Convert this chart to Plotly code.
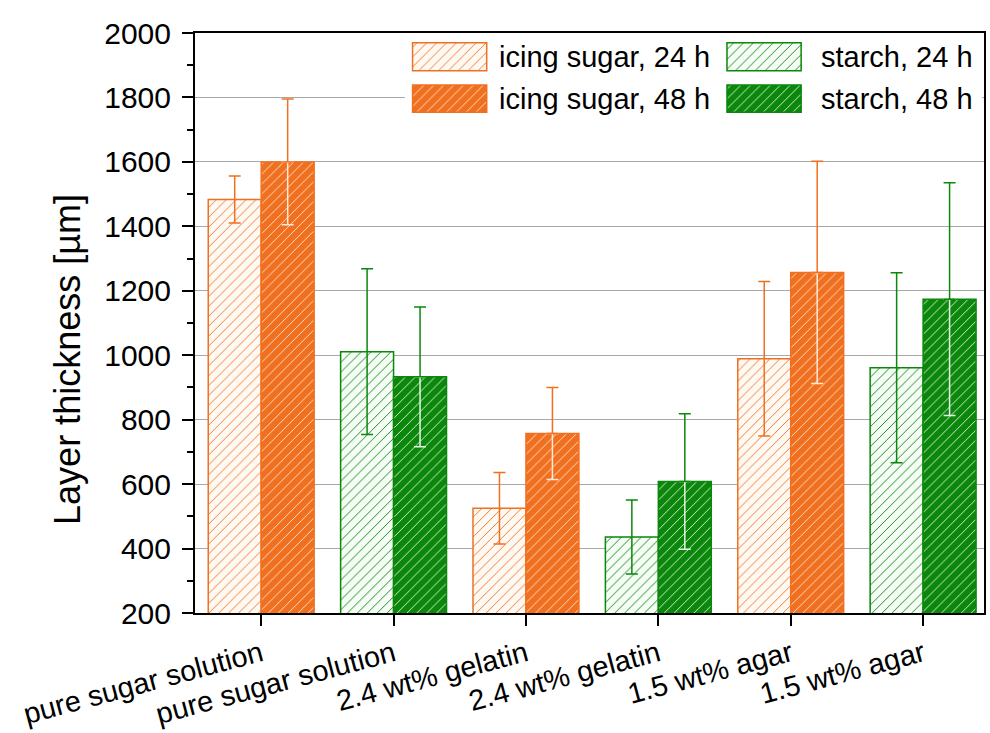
import plotly.graph_objects as go

# ---------------- data ----------------
categories = ["pure sugar solution", "pure sugar solution",
              "2.4 wt% gelatin", "2.4 wt% gelatin",
              "1.5 wt% agar", "1.5 wt% agar"]
icing_pos = [0, 2, 4]
starch_pos = [1, 3, 5]

icing_24 = [1483, 525, 989]
icing_24_err = [73, 111, 240]
icing_48 = [1600, 757, 1257]
icing_48_err = [195, 143, 345]
starch_24 = [1011, 436, 961]
starch_24_err = [257, 115, 295]
starch_48 = [933, 608, 1174]
starch_48_err = [217, 210, 361]

series_names = ["icing sugar, 24 h", "icing sugar, 48 h", "starch, 24 h", "starch, 48 h"]
y_ticks = [200, 400, 600, 800, 1000, 1200, 1400, 1600, 1800, 2000]

# ---------------- styles ----------------
ORANGE = "#F07020"
GREEN = "#0B870B"
FONT = "Liberation Sans, Arial, sans-serif"


def light_marker(col, bg):
    return dict(color=bg, line=dict(color=col, width=1.5),
                pattern=dict(shape="/", size=7, solidity=0.13, fgcolor=col,
                             bgcolor=bg, fillmode="overlay", fgopacity=1))


def dark_marker(col):
    return dict(color=col, line=dict(color=col, width=1.5),
                pattern=dict(shape="/", size=7, solidity=0.14, fgcolor="#FFE9D8",
                             bgcolor=col, fillmode="overlay", fgopacity=0.9))


def dark_marker_g(col):
    return dict(color=col, line=dict(color=col, width=1.5),
                pattern=dict(shape="/", size=7, solidity=0.14, fgcolor="#E8F6E8",
                             bgcolor=col, fillmode="overlay", fgopacity=0.9))


LIGHT_O = "#FFF9F4"
LIGHT_G = "#F6FCF6"

fig = go.Figure()

# 24 h bars
fig.add_trace(go.Bar(x=icing_pos, y=icing_24, offsetgroup="a", name=series_names[0],
                     marker=light_marker(ORANGE, LIGHT_O), showlegend=False,
                     error_y=dict(type="data", array=icing_24_err, color=ORANGE,
                                  thickness=1.5, width=6)))
fig.add_trace(go.Bar(x=starch_pos, y=starch_24, offsetgroup="a", name=series_names[2],
                     marker=light_marker(GREEN, LIGHT_G), showlegend=False,
                     error_y=dict(type="data", array=starch_24_err, color=GREEN,
                                  thickness=1.5, width=6)))
# 48 h bars (lower error half drawn light inside the bar)
fig.add_trace(go.Bar(x=icing_pos, y=icing_48, offsetgroup="b", name=series_names[1],
                     marker=dark_marker(ORANGE), showlegend=False,
                     error_y=dict(type="data", symmetric=False,
                                  array=[0 for _ in icing_48_err], arrayminus=icing_48_err,
                                  color="#FFE9D8", thickness=1.5, width=6)))
fig.add_trace(go.Bar(x=starch_pos, y=starch_48, offsetgroup="b", name=series_names[3],
                     marker=dark_marker_g(GREEN), showlegend=False,
                     error_y=dict(type="data", symmetric=False,
                                  array=[0 for _ in starch_48_err], arrayminus=starch_48_err,
                                  color="#E8F6E8", thickness=1.5, width=6)))
# upper error halves of 48 h bars
fig.add_trace(go.Bar(x=icing_pos, y=icing_48, offsetgroup="b", showlegend=False,
                     marker=dict(color="rgba(0,0,0,0)", line=dict(width=0)), hoverinfo="skip",
                     error_y=dict(type="data", symmetric=False, array=icing_48_err,
                                  arrayminus=[0 for _ in icing_48_err],
                                  color=ORANGE, thickness=1.5, width=6)))
fig.add_trace(go.Bar(x=starch_pos, y=starch_48, offsetgroup="b", showlegend=False,
                     marker=dict(color="rgba(0,0,0,0)", line=dict(width=0)), hoverinfo="skip",
                     error_y=dict(type="data", symmetric=False, array=starch_48_err,
                                  arrayminus=[0 for _ in starch_48_err],
                                  color=GREEN, thickness=1.5, width=6)))

# ---------------- custom legend (inset axes) ----------------
leg_cols = [0.0133, 0.5581]      # left edge of swatch columns (inset fraction)
leg_w = 0.1285
leg_rows = [(0.570, 0.337), (0.072, 0.326)]  # (base, height) per row
leg_text_x = [0.1589, 0.7175]
leg_text_y = [0.739, 0.235]
leg_markers = [
    [light_marker(ORANGE, LIGHT_O), light_marker(GREEN, LIGHT_G)],
    [dark_marker(ORANGE), dark_marker_g(GREEN)],
]
leg_labels = [[series_names[0], series_names[2]], [series_names[1], series_names[3]]]

fig.add_shape(type="rect", xref="x2", yref="y2", x0=0, x1=1, y0=0, y1=1,
              fillcolor="white", line=dict(width=0), layer="below")
for r in range(2):
    for c in range(2):
        fig.add_trace(go.Bar(x=[leg_cols[c]], y=[leg_rows[r][1]], base=[leg_rows[r][0]],
                             width=[leg_w], offset=0, xaxis="x2", yaxis="y2",
                             marker=leg_markers[r][c], showlegend=False, hoverinfo="skip"))
        fig.add_annotation(x=leg_text_x[c], y=leg_text_y[r], xref="x2", yref="y2",
                           text=leg_labels[r][c], showarrow=False, xanchor="left",
                           yanchor="middle", font=dict(size=29, color="black", family=FONT))

# ---------------- layout ----------------
fig.update_layout(
    width=990, height=733,
    margin=dict(l=195, r=6, t=33, b=120),
    paper_bgcolor="white", plot_bgcolor="white",
    barmode="group", bargap=0.2, bargroupgap=0,
    font=dict(family=FONT, color="black"),
    showlegend=False,
    xaxis=dict(range=[-0.5, 5.46], tickvals=list(range(len(categories))), ticktext=categories,
               tickangle=-15, tickfont=dict(size=29), ticks="outside", ticklen=11, tickwidth=2,
               tickcolor="black", showline=True, linecolor="black", linewidth=2, mirror=True,
               showgrid=False, zeroline=False, automargin=False),
    yaxis=dict(range=[200, 2000], tickvals=y_ticks, tickfont=dict(size=30), ticks="outside",
               ticklen=11, tickwidth=2, tickcolor="black", ticklabelstandoff=5,
               minor=dict(dtick=100, ticks="outside", ticklen=6, tickwidth=2, tickcolor="black",
                          showgrid=False),
               showline=True, linecolor="black", linewidth=2, mirror=True,
               showgrid=True, gridcolor="#A8A8A8", gridwidth=1, zeroline=False,
               automargin=False),
    xaxis2=dict(domain=[0.266, 0.9975], range=[0, 1], visible=False, fixedrange=True,
                anchor="y2"),
    yaxis2=dict(domain=[0.853, 0.9966], range=[0, 1], visible=False, fixedrange=True,
                anchor="x2"),
)

fig.add_annotation(text="Layer thickness [µm]", xref="paper", yref="paper",
                   x=-0.161, y=0.438, textangle=-90, showarrow=False,
                   xanchor="center", yanchor="middle",
                   font=dict(size=36, color="black", family=FONT))

fig.write_html("out.html")
